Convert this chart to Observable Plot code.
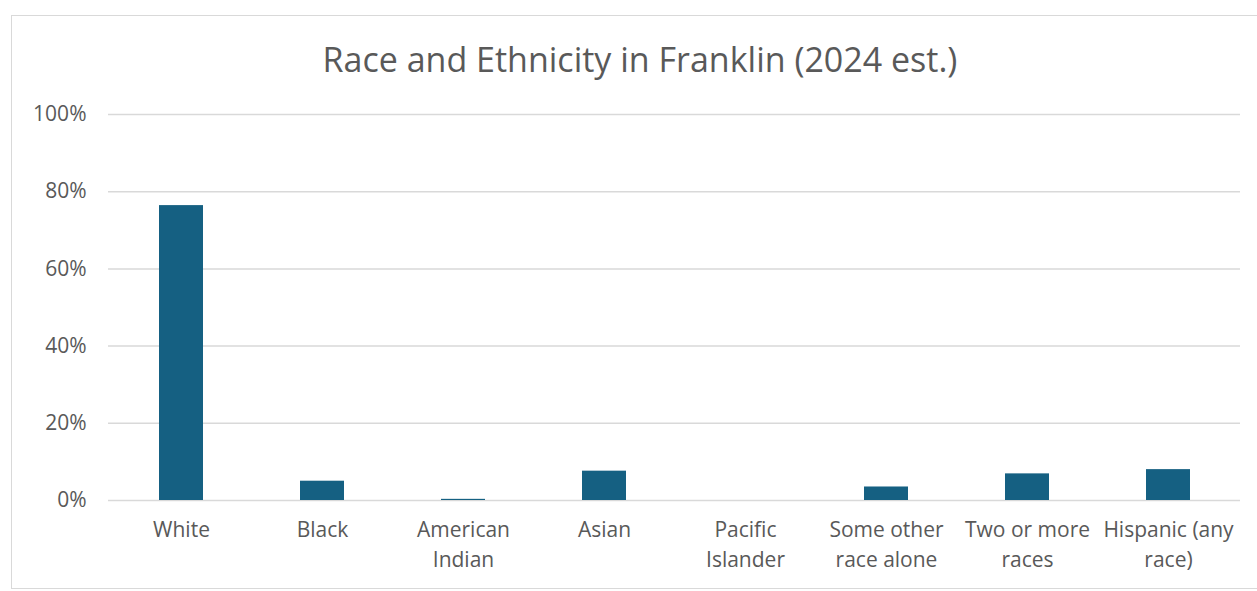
<!DOCTYPE html>
<html>
<head>
<meta charset="utf-8">
<script src="https://cdn.jsdelivr.net/npm/d3@7"></script>
<script src="https://cdn.jsdelivr.net/npm/@observablehq/plot@0.6"></script>
<style>
  html, body { margin: 0; padding: 0; background: #fff; }
  #wrap { position: relative; width: 1257px; height: 591px; overflow: hidden; font-family: "Open Sans", sans-serif; }
  #frame { position: absolute; left: 11px; top: 15px; width: 1260px; height: 574px; border: 1px solid #d9d9d9; box-sizing: border-box; }
  #title { position: absolute; left: 0; width: 1280px; top: 36px; text-align: center; font-size: 34px; color: #595959; }
  #chart { position: absolute; left: 0; top: 0; }
</style>
</head>
<body>
<div id="wrap">
  <div id="frame"></div>
  <div id="title">Race and Ethnicity in Franklin (2024 est.)</div>
  <div id="chart"></div>
</div>
<script>
const categories = ["White", "Black", "American Indian", "Asian", "Pacific Islander", "Some other race alone", "Two or more races", "Hispanic (any race)"];
const tickLabels = ["White", "Black", "American\nIndian", "Asian", "Pacific\nIslander", "Some other\nrace alone", "Two or more\nraces", "Hispanic (any\nrace)"];
const values = [0.764, 0.050, 0.003, 0.076, 0, 0.035, 0.069, 0.080];
const yTicks = [0, 0.2, 0.4, 0.6, 0.8, 1.0];

const data = categories.map((c, i) => ({category: c, value: values[i]}));
const labelOf = new Map(categories.map((c, i) => [c, tickLabels[i]]));

const chart = Plot.plot({
  width: 1257,
  height: 591,
  marginLeft: 108,
  marginRight: 17,
  marginTop: 114,
  marginBottom: 91,
  style: {fontFamily: "Open Sans, sans-serif", fontSize: "21px", color: "#595959", background: "transparent"},
  x: {domain: categories, paddingInner: 0.69, paddingOuter: 0.345, align: 0.5, label: null},
  y: {domain: [0, 1], label: null},
  marks: [
    Plot.gridY(yTicks, {stroke: "#d9d9d9", strokeOpacity: 1, strokeWidth: 1.5}),
    Plot.barY(data, {x: "category", y: "value", fill: "#156082"}),
    Plot.axisX({tickSize: 0, tickPadding: 16, lineHeight: 1.4, tickFormat: d => labelOf.get(d), fontSize: 21, fill: "#595959"}),
    Plot.axisY({ticks: yTicks, tickSize: 0, tickPadding: 22, tickFormat: d => Math.round(d * 100) + "%", fontSize: 21, fill: "#595959"})
  ]
});
document.getElementById("chart").appendChild(chart);
</script>
</body>
</html>
